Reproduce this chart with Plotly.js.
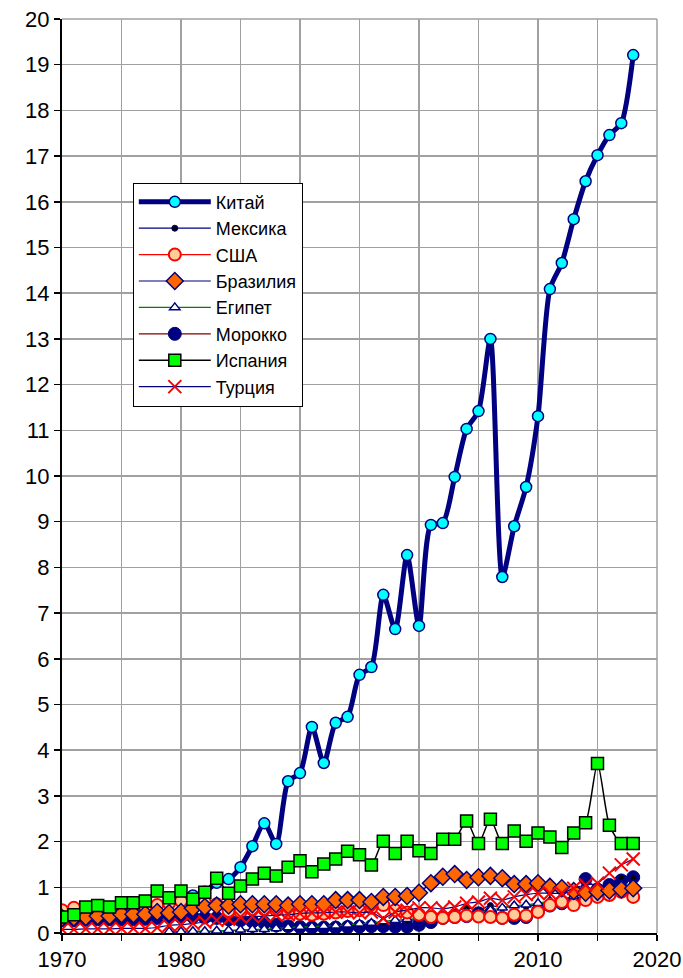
<!DOCTYPE html>
<html><head><meta charset="utf-8">
<script src="https://cdn.plot.ly/plotly-3.0.1.min.js"></script>
<style>html,body{margin:0;padding:0;background:#fff}#chart{width:683px;height:978px}</style>
</head><body><div id="chart"></div>
<script>
const years = [];
for (let y = 1970; y <= 2018; y++) years.push(y);

const seriesNames = ["Китай","Мексика","США","Бразилия","Египет","Морокко","Испания","Турция"];

const china = [null,null,null,null,null,null,null,null,null,null,
  null,0.82,0.9,1.1,1.18,1.44,1.9,2.4,1.95,3.32,
  3.5,4.51,3.72,4.6,4.73,5.65,5.82,7.4,6.65,8.27,
  6.72,8.93,8.97,9.98,11.03,11.42,13.0,7.79,8.9,9.76,
  11.31,14.09,14.66,15.62,16.45,17.02,17.46,17.72,19.21];

const mexico = [null,null,null,null,null,null,null,null,null,0.02,
  0.02,0.03,0.03,0.04,0.05,0.06,0.07,0.07,0.08,0.1,
  0.11,0.12,0.14,0.15,0.16,0.18,0.2,0.22,0.25,0.27,
  0.3,0.33,0.36,0.45,0.55,0.5,0.6,0.55,0.6,0.58,
  0.62,0.68,0.72,0.75,0.82,0.87,1.05,1.22,1.2];

const usa = [0.5,0.55,0.5,0.48,0.45,0.47,0.5,0.55,0.61,0.65,
  0.7,0.72,0.68,0.63,0.48,0.46,0.52,0.52,0.5,0.45,
  0.42,0.4,0.42,0.45,0.48,0.5,0.55,0.61,0.5,0.45,
  0.4,0.35,0.33,0.35,0.38,0.36,0.35,0.33,0.4,0.38,
  0.46,0.61,0.68,0.61,0.72,0.79,0.83,0.9,0.79];

const brazil = [0.33,0.34,0.35,0.37,0.37,0.41,0.41,0.41,0.46,0.44,
  0.46,0.54,0.57,0.6,0.6,0.63,0.63,0.63,0.63,0.6,
  0.63,0.63,0.63,0.72,0.72,0.72,0.68,0.79,0.79,0.81,
  0.88,1.09,1.23,1.29,1.16,1.22,1.25,1.2,1.07,1.07,
  1.09,1.01,0.98,0.92,0.88,0.9,0.93,0.95,0.98];

const egypt = [null,null,null,null,null,null,null,null,null,0.03,
  0.03,0.04,0.04,0.05,0.06,0.07,0.08,0.08,0.1,0.12,
  0.13,0.14,0.15,0.16,0.18,0.2,0.22,0.25,0.28,0.3,
  0.32,0.35,0.38,0.4,0.42,0.45,0.5,0.55,0.6,0.62,
  0.65,0.7,0.75,0.8,0.85,0.9,0.95,0.98,1.0];

const morocco = [0.28,0.28,0.29,0.3,0.3,0.3,0.3,0.31,0.33,0.35,
  0.35,0.35,0.34,0.33,0.3,0.28,0.25,0.22,0.18,0.15,
  0.13,0.12,0.12,0.12,0.13,0.14,0.15,0.15,0.14,0.14,
  0.18,0.24,0.33,0.35,0.37,0.43,0.43,0.33,0.33,0.35,
  0.48,0.6,0.65,0.65,1.18,0.95,1.05,1.15,1.22];

const spain = [0.35,0.4,0.57,0.6,0.57,0.66,0.66,0.7,0.92,0.77,
  0.92,0.74,0.89,1.2,0.87,1.03,1.18,1.31,1.25,1.44,
  1.58,1.34,1.51,1.62,1.79,1.71,1.49,2.01,1.74,2.01,
  1.8,1.74,2.05,2.05,2.45,1.96,2.49,1.96,2.23,2.01,
  2.19,2.1,1.87,2.19,2.41,3.71,2.36,1.96,1.96];

const turkey = [0.08,0.08,0.09,0.09,0.09,0.1,0.1,0.1,0.12,0.17,
  0.18,0.21,0.24,0.28,0.3,0.35,0.36,0.37,0.39,0.4,
  0.43,0.44,0.44,0.46,0.46,0.44,0.46,0.32,0.46,0.5,
  0.55,0.55,0.53,0.57,0.65,0.68,0.76,0.72,0.79,0.84,
  0.87,0.87,0.87,0.98,1.05,1.09,1.31,1.49,1.62];

const xTicks = [1970,1980,1990,2000,2010,2020];
const yTicks = [];
for (let v = 0; v <= 20; v++) yTicks.push(v);

const NAVY = "#000080";
function tr(name, data, line, marker, rank) {
  return {x: years, y: data, name: name, type: "scatter", mode: "lines+markers",
    line: Object.assign({shape: "spline", smoothing: 0.7}, line),
    marker: marker, connectgaps: false, legendrank: rank};
}
// drawing order (legend order kept by legendrank)
const traces = [
  tr(seriesNames[0], china, {color: NAVY, width: 5}, {symbol: "circle", size: 11, color: "#00FFFF", line: {color: NAVY, width: 1.5}}, 1),
  tr(seriesNames[5], morocco, {color: "#800000", width: 1.2}, {symbol: "circle", size: 13, color: NAVY, line: {color: NAVY, width: 1}}, 6),
  tr(seriesNames[1], mexico, {color: NAVY, width: 1.2}, {symbol: "circle", size: 6, color: "#000000", line: {color: NAVY, width: 1}}, 2),
  tr(seriesNames[4], egypt, {color: "#008000", width: 1.2}, {symbol: "triangle-up", size: 9, color: "#FFFFFF", line: {color: NAVY, width: 1.5}}, 5),
  tr(seriesNames[2], usa, {color: "#FF0000", width: 1.2}, {symbol: "circle", size: 12, color: "#FFCC99", line: {color: "#FF0000", width: 2}}, 3),
  tr(seriesNames[3], brazil, {color: NAVY, width: 1.2}, {symbol: "diamond", size: 13, color: "#FF6600", line: {color: NAVY, width: 1.5}}, 4),
  tr(seriesNames[6], spain, {color: "#000000", width: 1.5}, {symbol: "square", size: 12, color: "#00FF00", line: {color: "#000000", width: 1.5}}, 7),
  tr(seriesNames[7], turkey, {color: NAVY, width: 1.2}, {symbol: "x-thin-open", size: 13, color: "#FF0000", line: {color: "#FF0000", width: 2}}, 8)
];

const FONT = "Liberation Sans, Arial, sans-serif";
const layout = {
  width: 683, height: 978,
  margin: {l: 62, r: 26, t: 19, b: 45},
  paper_bgcolor: "#fff", plot_bgcolor: "#fff",
  showlegend: true,
  font: {family: FONT, size: 22, color: "#000"},
  xaxis: {range: [1970, 2020], tickvals: xTicks, ticktext: xTicks.map(String),
    ticks: "outside", ticklen: 6, tickwidth: 1.5, tickcolor: "#000",
    showgrid: true, gridcolor: "#a0a0a0", gridwidth: 1.5,
    minor: {dtick: 5, tick0: 1970, showgrid: true, gridcolor: "#a0a0a0", gridwidth: 1.5, ticks: "outside", ticklen: 6, tickcolor: "#000", tickwidth: 1.5},
    showline: true, linecolor: "#000", linewidth: 2, zeroline: false,
    tickfont: {family: FONT, size: 22}},
  yaxis: {range: [0, 20], tickvals: yTicks, ticktext: yTicks.map(String),
    ticks: "outside", ticklen: 6, tickwidth: 1.5, tickcolor: "#000",
    showgrid: true, gridcolor: "#a0a0a0", gridwidth: 1.5,
    showline: true, linecolor: "#000", linewidth: 2, zeroline: false,
    tickfont: {family: FONT, size: 22}},
  legend: {x: 0.119, y: 0.821, xanchor: "left", yanchor: "top",
    bgcolor: "#fff", bordercolor: "#000", borderwidth: 1,
    font: {family: FONT, size: 18, color: "#000"},
    itemwidth: 72, traceorder: "normal"},
  shapes: [
    {type: "line", xref: "paper", yref: "paper", x0: 1, x1: 1, y0: 0, y1: 1, line: {color: "#a0a0a0", width: 1.5}},
    {type: "line", xref: "paper", yref: "paper", x0: 0, x1: 1, y0: 1, y1: 1, line: {color: "#a0a0a0", width: 1.5}}
  ]
};
Plotly.newPlot("chart", traces, layout, {displayModeBar: false, staticPlot: true});
</script></body></html>
